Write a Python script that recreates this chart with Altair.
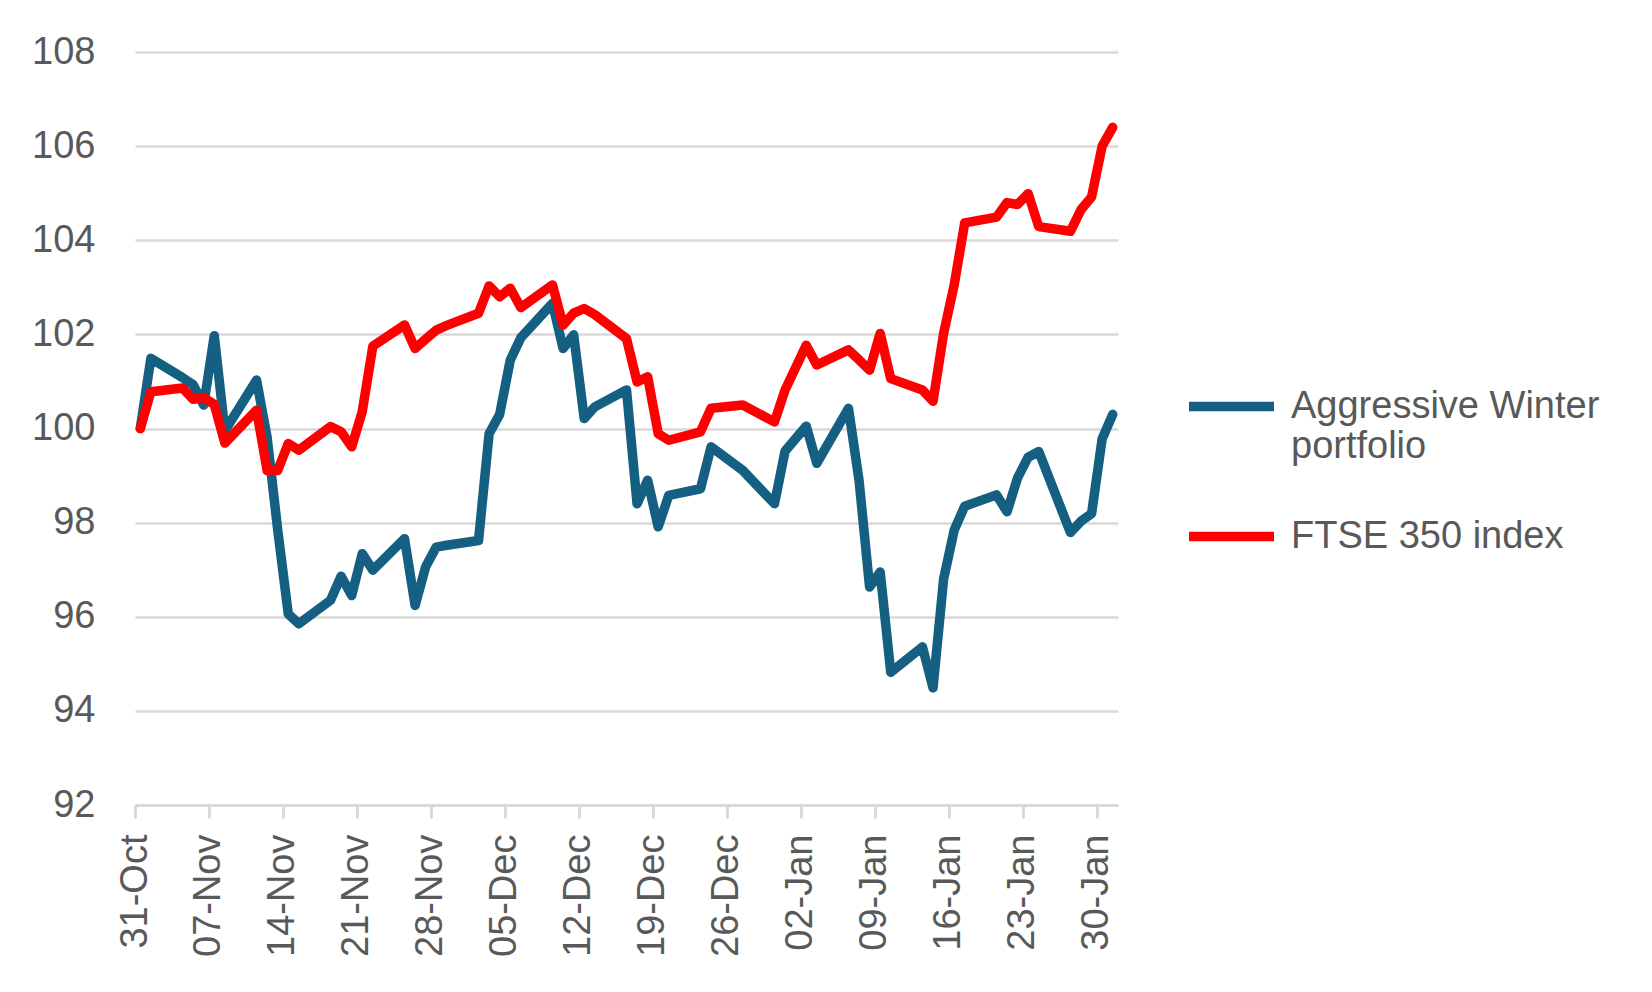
import altair as alt
import pandas as pd

# ---- data ----
dates = [
    "2024-10-31", "2024-11-01",
    "2024-11-04", "2024-11-05", "2024-11-06", "2024-11-07", "2024-11-08",
    "2024-11-11", "2024-11-12", "2024-11-13", "2024-11-14", "2024-11-15",
    "2024-11-18", "2024-11-19", "2024-11-20", "2024-11-21", "2024-11-22",
    "2024-11-25", "2024-11-26", "2024-11-27", "2024-11-28", "2024-11-29",
    "2024-12-02", "2024-12-03", "2024-12-04", "2024-12-05", "2024-12-06",
    "2024-12-09", "2024-12-10", "2024-12-11", "2024-12-12", "2024-12-13",
    "2024-12-16", "2024-12-17", "2024-12-18", "2024-12-19", "2024-12-20",
    "2024-12-23", "2024-12-24", "2024-12-27", "2024-12-30", "2024-12-31",
    "2025-01-02", "2025-01-03",
    "2025-01-06", "2025-01-07", "2025-01-08", "2025-01-09", "2025-01-10",
    "2025-01-13", "2025-01-14", "2025-01-15", "2025-01-16", "2025-01-17",
    "2025-01-20", "2025-01-21", "2025-01-22", "2025-01-23", "2025-01-24",
    "2025-01-27", "2025-01-28", "2025-01-29", "2025-01-30", "2025-01-31",
]

portfolio = [
    100.00, 101.49,
    101.08, 100.93, 100.50, 101.97, 99.95,
    101.03, 99.81, 97.85, 96.06, 95.85,
    96.35, 96.86, 96.45, 97.34, 96.99,
    97.66, 96.24, 97.06, 97.48, 97.52,
    97.62, 99.89, 100.30, 101.45, 101.93,
    102.66, 101.70, 101.99, 100.21, 100.46,
    100.82, 98.40, 98.90, 97.91, 98.58,
    98.72, 99.61, 99.11, 98.40, 99.52,
    100.05, 99.26,
    100.43, 98.90, 96.63, 96.95, 94.82,
    95.36, 94.49, 96.80, 97.84, 98.35,
    98.59, 98.23, 98.95, 99.39, 99.51,
    97.79, 98.03, 98.19, 99.78, 100.30,
]

ftse = [
    100.00, 100.78,
    100.86, 100.62, 100.66, 100.51, 99.69,
    100.39, 99.11, 99.11, 99.68, 99.54,
    100.04, 99.93, 99.61, 100.36, 101.75,
    102.20, 101.70, 101.90, 102.09, 102.19,
    102.45, 103.03, 102.80, 102.98, 102.57,
    103.05, 102.20, 102.45, 102.55, 102.42,
    101.91, 100.99, 101.10, 99.89, 99.75,
    99.93, 100.43, 100.50, 100.14, 100.82,
    101.77, 101.35,
    101.67, 101.46, 101.24, 102.02, 101.06,
    100.82, 100.58, 102.02, 103.05, 104.37,
    104.49, 104.80, 104.76, 104.99, 104.29,
    104.19, 104.65, 104.92, 106.00, 106.40,
]

series_names = ["Aggressive Winter portfolio", "FTSE 350 index"]
series_colors = ["#156082", "#FF0000"]

y_ticks = [92, 94, 96, 98, 100, 102, 104, 106, 108]
x_tick_dates = [
    "2024-10-31", "2024-11-07", "2024-11-14", "2024-11-21", "2024-11-28",
    "2024-12-05", "2024-12-12", "2024-12-19", "2024-12-26",
    "2025-01-02", "2025-01-09", "2025-01-16", "2025-01-23", "2025-01-30",
]
x_domain = ["2024-10-31", "2025-02-01"]

# ---- table ----
df = pd.DataFrame({
    "date": dates * 2,
    "value": portfolio + ftse,
    "series": [series_names[0]] * len(dates) + [series_names[1]] * len(dates),
})
# Excel date axis "between tick marks": each point sits mid-day
df["date"] = pd.to_datetime(df["date"]) + pd.Timedelta(hours=12)


def dt(s):
    y, m, d = (int(p) for p in s.split("-"))
    return alt.DateTime(year=y, month=m, date=d)


FONT = "Liberation Sans"
GREY = "#595959"
GRID = "#D9D9D9"
FS = 38


def build(extra_legend):
    legend_kw = dict(
        orient="none",
        legendX=1049,
        legendY=307,
        title=None,
        padding=0,
        symbolType="stroke",
        symbolSize=7225,
        symbolStrokeWidth=9.5,
        labelFont=FONT,
        labelFontSize=FS,
        labelColor=GREY,
        labelLimit=600,
        labelOffset=12,
        rowPadding=23,
        labelExpr="datum.label == 'Aggressive Winter portfolio' ? ['Aggressive Winter', 'portfolio'] : datum.label",
    )
    legend_kw.update(extra_legend)
    return alt.Chart(df).mark_line(
        strokeWidth=9.5, strokeCap="round", strokeJoin="round"
    ).encode(
        x=alt.X(
            "date:T",
            scale=alt.Scale(domain=[dt(s) for s in x_domain], nice=False),
            axis=alt.Axis(
                values=[dt(s) for s in x_tick_dates],
                format="%d-%b",
                labelAngle=-90,
                title=None,
                grid=False,
                domainColor=GRID,
                domainWidth=3,
                tickColor=GRID,
                tickWidth=3,
                tickSize=13,
                labelPadding=16,
                labelFont=FONT,
                labelFontSize=FS,
                labelColor=GREY,
                labelOverlap=False,
            ),
        ),
        y=alt.Y(
            "value:Q",
            scale=alt.Scale(domain=[92, 108], nice=False, zero=False),
            axis=alt.Axis(
                values=y_ticks,
                title=None,
                domain=False,
                ticks=False,
                gridColor=GRID,
                gridWidth=2.5,
                labelPadding=40,
                labelFont=FONT,
                labelFontSize=FS,
                labelColor=GREY,
            ),
        ),
        color=alt.Color(
            "series:N",
            scale=alt.Scale(domain=series_names, range=series_colors),
            legend=alt.Legend(**legend_kw),
        ),
    ).properties(
        width=983,
        height=753,
        autosize=alt.AutoSizeParams(type="none"),
        padding={"left": 127, "top": 44, "right": 520, "bottom": 170},
        background="white",
    ).configure_view(stroke=None)


try:
    chart = build({"labelLineHeight": 50, "rowPadding": 13})
    chart.to_dict()
except Exception:
    chart = build({})

chart.save("out.html", embed_options={"renderer": "svg", "actions": False})
